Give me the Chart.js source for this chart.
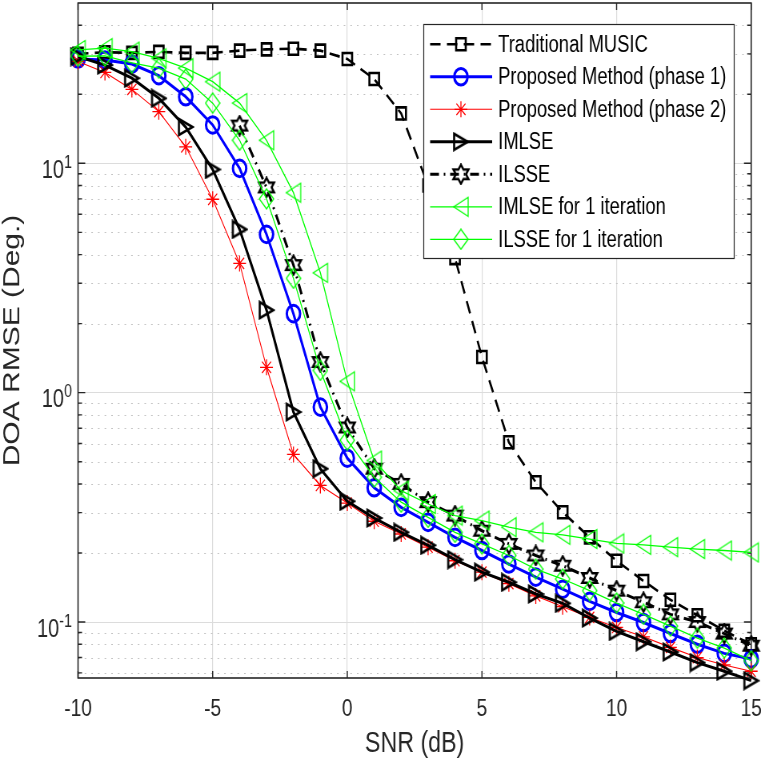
<!DOCTYPE html>
<html>
<head>
<meta charset="utf-8">
<script src="https://cdn.jsdelivr.net/npm/chart.js@4.4.0/dist/chart.umd.min.js"></script>
<style>
  html, body { margin: 0; padding: 0; background: #fff; }
  #wrap { width: 761px; height: 761px; overflow: hidden; }
</style>
</head>
<body>
<!-- the figure is drawn 951 px wide and shown 761 px wide, like the squeezed original -->
<div id="wrap"><canvas id="rmseChart" width="951" height="761" style="width:761px;height:761px"></canvas></div>
<script>
// SNR (dB) on the x axis
const snr = [-10, -9, -8, -7, -6, -5, -4, -3, -2, -1, 0, 1, 2, 3, 4, 5, 6, 7, 8, 9, 10, 11, 12, 13, 14, 15];

// DOA RMSE (deg.) per method
const music   = [30.0, 30.5, 30.3, 30.6, 30.3, 30.3, 31.0, 31.4, 31.6, 31.0, 28.5, 23.3, 16.5, 8.0, 3.86, 1.43, 0.608, 0.407, 0.301, 0.234, 0.185, 0.151, 0.125, 0.107, 0.0916, 0.080];
const phase1  = [28.5, 28.2, 27.1, 24.1, 19.5, 14.7, 9.5, 4.9, 2.21, 0.865, 0.518, 0.385, 0.316, 0.272, 0.234, 0.205, 0.179, 0.157, 0.139, 0.123, 0.110, 0.0995, 0.0891, 0.080, 0.073, 0.069];
const phase2  = [27.8, 24.9, 21.0, 16.8, 11.8, 6.97, 3.66, 1.29, 0.538, 0.394, 0.330, 0.275, 0.242, 0.212, 0.185, 0.165, 0.147, 0.130, 0.1166, 0.1047, 0.0947, 0.0862, 0.0775, 0.070, 0.065, 0.061];
const imlse   = [29.2, 26.8, 23.5, 19.2, 14.4, 9.4, 5.15, 2.29, 0.823, 0.466, 0.336, 0.284, 0.246, 0.216, 0.187, 0.165, 0.149, 0.1325, 0.1206, 0.104, 0.091, 0.082, 0.074, 0.0665, 0.061, 0.0555];
const ilsse   = [null, null, null, null, null, null, 14.6, 7.85, 3.6, 1.36, 0.705, 0.466, 0.40, 0.333, 0.291, 0.250, 0.219, 0.195, 0.176, 0.1556, 0.137, 0.122, 0.108, 0.100, 0.089, 0.0788];
const imlse1  = [31.2, 31.8, 30.7, 28.7, 26.0, 22.7, 18.3, 12.6, 7.45, 3.33, 1.12, 0.506, 0.374, 0.327, 0.291, 0.277, 0.259, 0.246, 0.240, 0.230, 0.220, 0.217, 0.212, 0.208, 0.205, 0.201];
const ilsse1  = [29.3, 29.4, 27.4, 26.0, 23.3, 18.3, 12.6, 7.0, 3.15, 1.25, 0.62, 0.428, 0.333, 0.286, 0.246, 0.219, 0.195, 0.170, 0.154, 0.137, 0.121, 0.108, 0.096, 0.085, 0.077, 0.0678];

const xTicks = [-10, -5, 0, 5, 10, 15];
const yDecades = [0.1, 1, 10];
const yMin = 0.057, yMax = 50;

const FONT = '"Liberation Sans", Arial, Helvetica, sans-serif';
const AXIS_INK = '#262626';
const GRID = '#dcdcdc';

// little canvases for the MATLAB-like open markers
function marker(w, h, color, lw, pts) {
  const c = document.createElement('canvas');
  c.width = w; c.height = h;
  const g = c.getContext('2d');
  g.strokeStyle = color;
  g.lineWidth = lw;
  g.lineJoin = 'miter';
  g.beginPath();
  pts.forEach((p, i) => i ? g.lineTo(p[0], p[1]) : g.moveTo(p[0], p[1]));
  g.closePath();
  g.stroke();
  return c;
}

const triRight = marker(22, 20, '#000', 2.6, [[2.5, 2], [19.5, 10], [2.5, 18]]);
const triLeft  = marker(22, 22, '#00ff00', 1.3, [[20, 1.5], [2, 11], [20, 20.5]]);
const diamond  = marker(20, 22, '#00ff00', 1.3, [[10, 1], [19, 11], [10, 21], [1, 11]]);
const hexagram = (function () {
  const pts = [];
  const R = 9.5, r = R / Math.sqrt(3);
  for (let k = 0; k < 12; k++) {
    const a = -Math.PI / 2 + k * Math.PI / 6;
    const rr = k % 2 ? r : R;
    pts.push([12 + 1.15 * rr * Math.cos(a), 11 + rr * Math.sin(a)]);
  }
  return marker(24, 22, '#000', 2.4, pts);
})();

function series(label, values, color, width, dash, style, radius, order) {
  return {
    label: label,
    data: values,
    borderColor: color,
    borderWidth: width,
    borderDash: dash,
    pointStyle: style,
    pointRadius: radius,
    pointHoverRadius: radius,
    pointBorderColor: color,
    pointBackgroundColor: 'rgba(0,0,0,0)',
    pointBorderWidth: width,
    tension: 0,
    fill: false,
    clip: false,
    order: order
  };
}

const datasets = [
  series('Traditional MUSIC', music, '#000000', 2.6, [13, 8], 'rect', 8.5, 7),
  series('Proposed Method (phase 1)', phase1, '#0000ff', 3, [], 'circle', 8.3, 6),
  series('Proposed Method (phase 2)', phase2, '#ff0000', 1.1, [], 'star', 8, 5),
  series('IMLSE', imlse, '#000000', 3, [], triRight, 9, 4),
  series('ILSSE', ilsse, '#000000', 3, [11, 6, 2, 6], hexagram, 9, 3),
  series('IMLSE for 1 iteration', imlse1, '#00ff00', 1.3, [], triLeft, 9, 2),
  series('ILSSE for 1 iteration', ilsse1, '#00ff00', 1.3, [], diamond, 9, 1)
];
datasets[2].pointBorderWidth = 1.3;

function isDecade(v) {
  const l = Math.log10(v);
  return Math.abs(l - Math.round(l)) < 1e-6;
}

// dotted minor grid, box, inward ticks and y labels, under the data
const axesPlugin = {
  id: 'matlabAxes',
  beforeDatasetsDraw(chart) {
    const ctx = chart.ctx, a = chart.chartArea;
    const xs = chart.scales.x, ys = chart.scales.y;
    ctx.save();
    ctx.strokeStyle = '#c2c2c2';
    ctx.lineWidth = 1;
    ctx.setLineDash([2, 6.3]);
    const minors = [];
    for (let e = -2; e <= 1; e++) {
      for (let m = 2; m <= 9; m++) {
        const v = m * Math.pow(10, e);
        if (v > yMin && v < yMax) minors.push(v);
      }
    }
    minors.forEach(v => {
      const y = Math.round(ys.getPixelForValue(v)) + 0.5;
      ctx.beginPath(); ctx.moveTo(a.left, y); ctx.lineTo(a.right, y); ctx.stroke();
    });
    ctx.setLineDash([]);

    ctx.strokeStyle = AXIS_INK;
    ctx.lineWidth = 1.6;
    ctx.strokeRect(a.left, a.top, a.right - a.left, a.bottom - a.top);

    ctx.lineWidth = 1.4;
    xTicks.forEach(v => {
      const x = xs.getPixelForValue(v);
      ctx.beginPath();
      ctx.moveTo(x, a.bottom); ctx.lineTo(x, a.bottom - 7);
      ctx.moveTo(x, a.top); ctx.lineTo(x, a.top + 7);
      ctx.stroke();
    });
    yDecades.concat(minors).forEach(v => {
      const y = ys.getPixelForValue(v);
      const len = isDecade(v) ? 9 : 5;
      ctx.beginPath();
      ctx.moveTo(a.left, y); ctx.lineTo(a.left + len, y);
      ctx.moveTo(a.right, y); ctx.lineTo(a.right - len, y);
      ctx.stroke();
    });

    // y tick labels: 10 with a raised exponent
    ctx.fillStyle = AXIS_INK;
    ctx.textAlign = 'right';
    ctx.textBaseline = 'alphabetic';
    yDecades.forEach(v => {
      const y = ys.getPixelForValue(v);
      const exp = String(Math.round(Math.log10(v)));
      ctx.font = '18px ' + FONT;
      const ew = ctx.measureText(exp).width;
      ctx.fillText(exp, a.left - 7.5, y + 4.5);
      ctx.font = '25px ' + FONT;
      ctx.fillText('10', a.left - 7.5 - ew, y + 14.5);
    });
    ctx.restore();
  },
  afterDatasetsDraw(chart) {
    // legend box, top right inside the axes
    const ctx = chart.ctx;
    const bx = 529.5, by = 24.5, bw = 388, bh = 234;
    ctx.save();
    ctx.fillStyle = '#ffffff';
    ctx.fillRect(bx, by, bw, bh);
    ctx.strokeStyle = AXIS_INK;
    ctx.lineWidth = 1.2;
    ctx.strokeRect(bx, by, bw, bh);
    chart.data.datasets.forEach((ds, i) => {
      const y = 44.3 + i * 32.5;
      ctx.strokeStyle = ds.borderColor;
      ctx.lineWidth = ds.borderWidth;
      ctx.setLineDash(ds.borderDash);
      ctx.beginPath(); ctx.moveTo(537.5, y); ctx.lineTo(615, y); ctx.stroke();
      ctx.setLineDash([]);
      ctx.fillStyle = 'rgba(0,0,0,0)';
      ctx.lineWidth = ds.pointBorderWidth;
      Chart.helpers.drawPoint(ctx, {
        pointStyle: ds.pointStyle, radius: ds.pointRadius, borderWidth: ds.pointBorderWidth, rotation: 0
      }, 576, y);
      ctx.fillStyle = '#000';
      ctx.font = '23px ' + FONT;
      ctx.textAlign = 'left';
      ctx.textBaseline = 'middle';
      ctx.fillText(ds.label, 622.5, y + 1);
    });
    ctx.restore();
  }
};

new Chart(document.getElementById('rmseChart'), {
  type: 'line',
  data: { labels: snr, datasets: datasets },
  options: {
    responsive: false,
    animation: false,
    devicePixelRatio: 1,
    layout: { autoPadding: false, padding: { top: 3, right: 12.25, left: 0, bottom: 0 } },
    plugins: { legend: { display: false }, tooltip: { enabled: false } },
    scales: {
      x: {
        type: 'linear',
        min: -10, max: 15,
        afterBuildTicks: s => { s.ticks = xTicks.map(v => ({ value: v })); },
        afterFit: s => { s.height = 83; s.paddingLeft = 0; s.paddingRight = 0; },
        border: { display: false },
        grid: {
          drawTicks: false,
          color: c => (c.tick && (c.tick.value === -10 || c.tick.value === 15)) ? 'rgba(0,0,0,0)' : GRID,
          lineWidth: 1.2
        },
        ticks: { color: AXIS_INK, padding: 17, maxRotation: 0, font: { family: FONT, size: 24 } },
        title: {
          display: true, text: 'SNR (dB)', color: AXIS_INK,
          font: { family: FONT, size: 29, lineHeight: 1 }, padding: { top: 0, bottom: 2.5 }
        }
      },
      y: {
        type: 'logarithmic',
        min: yMin, max: yMax,
        afterFit: s => { s.width = 97.5; s.paddingTop = 0; s.paddingBottom = 0; },
        border: { display: false },
        grid: {
          drawTicks: false,
          color: c => (c.tick && isDecade(c.tick.value)) ? GRID : 'rgba(0,0,0,0)',
          lineWidth: 1
        },
        ticks: { display: false },
        title: {
          display: true, text: 'DOA RMSE (Deg.)', color: AXIS_INK,
          font: { family: FONT, size: 30, lineHeight: 1 }, padding: { top: 1, bottom: 0 }
        }
      }
    }
  },
  plugins: [axesPlugin]
});
</script>
</body>
</html>
